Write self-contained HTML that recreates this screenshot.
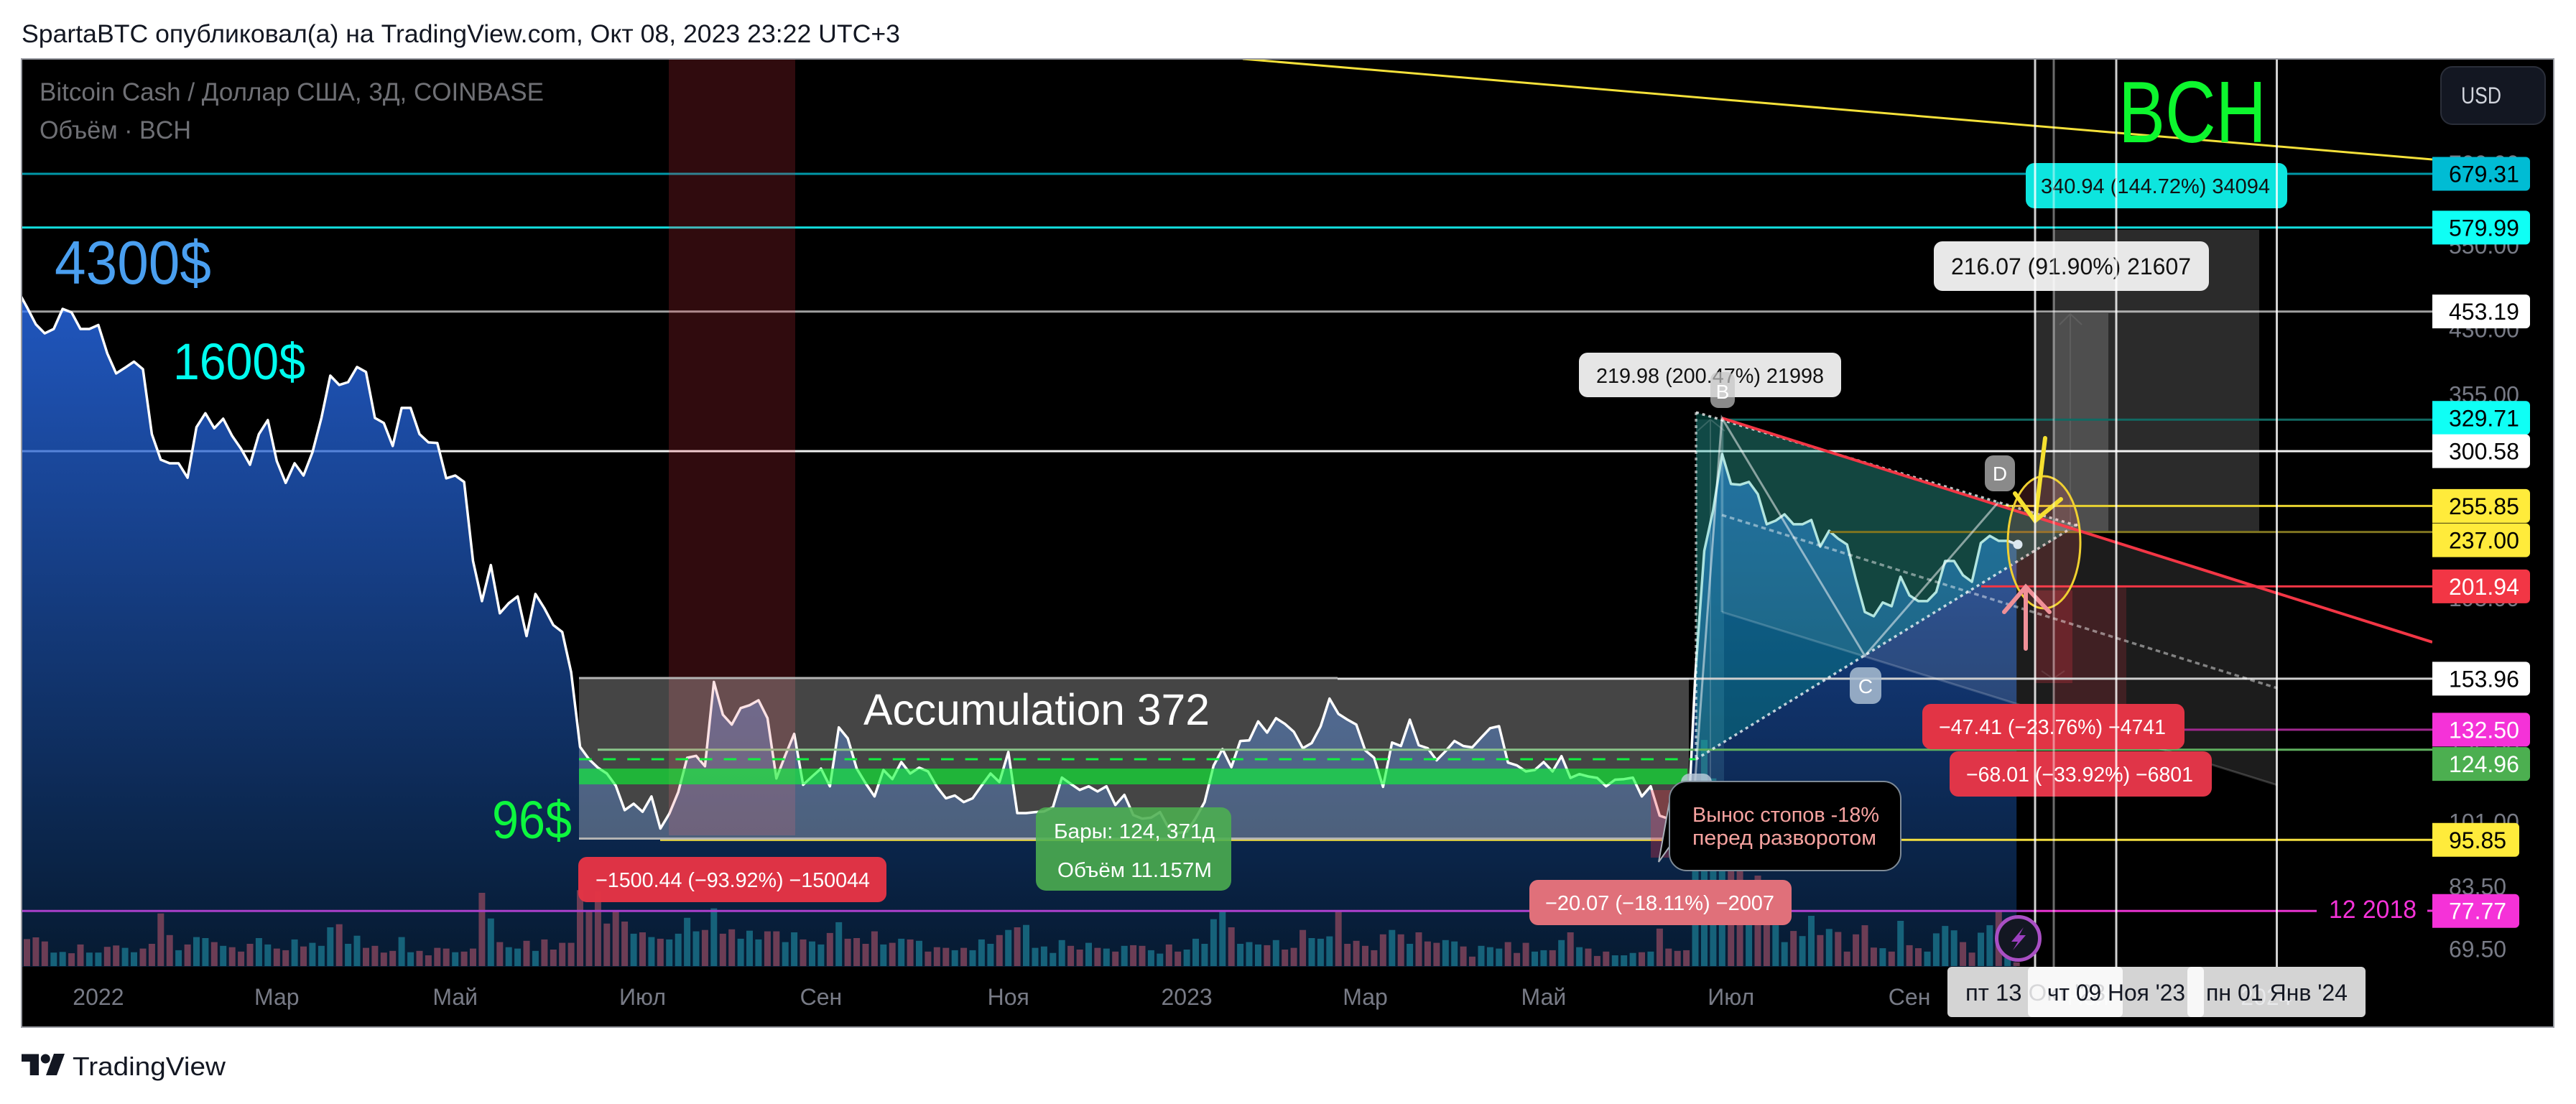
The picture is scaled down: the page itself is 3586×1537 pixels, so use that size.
<!DOCTYPE html>
<html lang="ru">
<head>
<meta charset="utf-8">
<title>BCH chart - SpartaBTC</title>
<style>
html,body{margin:0;padding:0;background:#fff;width:3586px;height:1537px;overflow:hidden}
svg{display:block}
text{font-family:"Liberation Sans","DejaVu Sans",sans-serif}
</style>
</head>
<body>
<svg id="chart" xmlns="http://www.w3.org/2000/svg" width="3586" height="1537" viewBox="0 0 3586 1537">
<defs>
<linearGradient id="areaFill" gradientUnits="userSpaceOnUse" x1="0" y1="415" x2="0" y2="1345">
<stop offset="0" stop-color="rgb(43,115,253)" stop-opacity="0.75"/>
<stop offset="1" stop-color="rgb(8,35,65)" stop-opacity="0.75"/>
</linearGradient>
<linearGradient id="magentaLine" gradientUnits="userSpaceOnUse" x1="30" y1="0" x2="3225" y2="0">
<stop offset="0" stop-color="#a83fc9"/>
<stop offset="0.87" stop-color="#b040d0"/>
<stop offset="0.88" stop-color="#e633cf"/>
<stop offset="1" stop-color="#e633cf"/>
</linearGradient>
<clipPath id="paneClip"><rect x="31" y="83" width="3355" height="1263"/></clipPath>
</defs>

<rect x="0" y="0" width="3586" height="1537" fill="#ffffff"/>
<text x="30" y="59" font-size="35" fill="#131722" textLength="1223" lengthAdjust="spacingAndGlyphs">SpartaBTC опубликовал(а) на TradingView.com, Окт 08, 2023 23:22 UTC+3</text>

<rect x="30" y="82" width="3525" height="1348" fill="#000000" stroke="#9a9ca3" stroke-width="2"/>

<g clip-path="url(#paneClip)">
<g id="levelsUnder"></g>
<path id="areaPath" fill="url(#areaFill)"></path>
<g id="volumeBars"></g>
<path id="pricePath" fill="none" stroke="#ffffff" stroke-width="3.5" stroke-linejoin="round"></path>

<polygon points="2397,582 3170,826 3170,1093 2397,852" fill="rgba(255,255,255,0.11)"/>
<polygon points="2361,574 2892,732 2361,1057" fill="rgba(0,170,150,0.3)"/>
<rect x="2361" y="584" width="39" height="516" fill="rgba(120,210,230,0.14)"/>
<path d="M2381,1090V584M2363,600L2381,584L2401,600" fill="none" stroke="rgba(255,255,255,0.16)" stroke-width="2"/>

<rect x="2859" y="320" width="286" height="421" fill="rgba(255,255,255,0.17)"/>
<rect x="2833" y="436" width="102" height="305" fill="rgba(255,255,255,0.17)"/>
<path d="M2882,736V437M2867,452L2882,437L2898,452" fill="none" stroke="rgba(255,255,255,0.09)" stroke-width="2"/>
<rect x="2832" y="822" width="53" height="129" fill="rgba(242,54,69,0.24)"/>
<rect x="2858" y="818" width="102" height="200" fill="rgba(242,54,69,0.17)"/>
<path d="M2842,934L2858,945L2874,934" fill="none" stroke="rgba(255,255,255,0.1)" stroke-width="2"/>

<g id="levelsOver"></g>

<rect x="931" y="82" width="176" height="1081" fill="rgba(242,54,69,0.2)"/>
<rect x="806" y="944" width="1545" height="224" fill="rgba(255,255,255,0.27)"/>
<path d="M806,944H1862M806,1167.5H2351" stroke="#b4b4b4" stroke-width="3" fill="none"/>
<rect x="806" y="1070" width="1543" height="22" fill="rgba(8,255,50,0.6)"/>
<rect x="2298" y="1100" width="52" height="94" fill="rgba(242,54,69,0.3)"/>
<line x1="806" y1="1057" x2="2361" y2="1057" stroke="#12f040" stroke-width="3" stroke-dasharray="17.6 16"/>

<g fill="none">
<line x1="1730" y1="82" x2="3386" y2="222" stroke="#f5e13a" stroke-width="3"/>
<line x1="2361" y1="574" x2="2892" y2="732" stroke="rgba(255,255,255,0.75)" stroke-width="3.5" stroke-dasharray="4 5"/>
<line x1="2361" y1="1057" x2="2892" y2="730" stroke="rgba(255,255,255,0.75)" stroke-width="3.5" stroke-dasharray="4 5"/>
<line x1="2361" y1="574" x2="2361" y2="1057" stroke="rgba(255,255,255,0.6)" stroke-width="3.5" stroke-dasharray="4 5"/>
<line x1="2397" y1="717" x2="3170" y2="958" stroke="rgba(255,255,255,0.45)" stroke-width="3.5" stroke-dasharray="6.5 5"/>
<line x1="2397" y1="852" x2="3170" y2="1093" stroke="rgba(255,255,255,0.18)" stroke-width="3"/>
<line x1="2397" y1="582" x2="2397" y2="852" stroke="rgba(255,255,255,0.22)" stroke-width="3"/>
<line x1="2397" y1="582" x2="3386" y2="894" stroke="#f23645" stroke-width="4"/>
<polyline points="2358,1110 2397,582 2596,913 2782,699" stroke="rgba(255,255,255,0.5)" stroke-width="3"/>
</g>

<text x="76" y="395" font-size="85" fill="#4a9ff0" textLength="218" lengthAdjust="spacingAndGlyphs">4300$</text>
<text x="241" y="528" font-size="71" fill="#00fff0" textLength="184" lengthAdjust="spacingAndGlyphs">1600$</text>
<text x="685" y="1167" font-size="74" fill="#0df73e" textLength="111" lengthAdjust="spacingAndGlyphs">96$</text>
<text x="1202" y="1009" font-size="61" fill="#ffffff" textLength="482" lengthAdjust="spacingAndGlyphs">Accumulation 372</text>
<text x="2949" y="198" font-size="122" fill="#0df72e" textLength="206" lengthAdjust="spacingAndGlyphs">BCH</text>
<text x="55" y="140" font-size="35" fill="#6f7075" textLength="702" lengthAdjust="spacingAndGlyphs">Bitcoin Cash / Доллар США, 3Д, COINBASE</text>
<text x="55" y="193" font-size="35" fill="#6f7075" textLength="211" lengthAdjust="spacingAndGlyphs">Объём · BCH</text>

<g>
<rect x="2198" y="491" width="365" height="62" rx="12" fill="#e6e6e6"/>
<text x="2222" y="533" font-size="29" fill="#111111" textLength="317" lengthAdjust="spacingAndGlyphs">219.98 (200.47%) 21998</text>
</g>
<g>
<rect x="2820" y="227" width="364" height="63" rx="12" fill="#0de5de"/>
<text x="2841" y="269" font-size="29" fill="#111111" textLength="319" lengthAdjust="spacingAndGlyphs">340.94 (144.72%) 34094</text>
</g>
<g>
<rect x="2692" y="336" width="383" height="69" rx="12" fill="#e8e8e8"/>
<text x="2716" y="382" font-size="32" fill="#111111" textLength="334" lengthAdjust="spacingAndGlyphs">216.07 (91.90%) 21607</text>
</g>
<g>
<rect x="805" y="1193" width="429" height="63" rx="12" fill="rgba(226,52,69,0.98)"/>
<text x="829" y="1235" font-size="29" fill="#ffffff" textLength="382" lengthAdjust="spacingAndGlyphs">−1500.44 (−93.92%) −150044</text>
</g>
<g>
<rect x="2129" y="1225" width="365" height="63" rx="12" fill="#e0707a"/>
<text x="2151" y="1267" font-size="29" fill="#ffffff" textLength="319" lengthAdjust="spacingAndGlyphs">−20.07 (−18.11%) −2007</text>
</g>
<g>
<rect x="2676" y="980" width="365" height="63" rx="12" fill="#e23445"/>
<text x="2699" y="1022" font-size="29" fill="#ffffff" textLength="316" lengthAdjust="spacingAndGlyphs">−47.41 (−23.76%) −4741</text>
</g>
<g>
<rect x="2714" y="1046" width="365" height="63" rx="12" fill="#e03548"/>
<text x="2737" y="1088" font-size="29" fill="#ffffff" textLength="316" lengthAdjust="spacingAndGlyphs">−68.01 (−33.92%) −6801</text>
</g>
<g>
<rect x="1442" y="1124" width="272" height="116" rx="14" fill="rgba(76,175,80,0.88)"/>
<text x="1467" y="1167" font-size="29" fill="#ffffff" textLength="224" lengthAdjust="spacingAndGlyphs">Бары: 124, 371д</text>
<text x="1472" y="1221" font-size="29" fill="#ffffff" textLength="215" lengthAdjust="spacingAndGlyphs">Объём 11.157M</text>
</g>

<g>
<rect x="2340" y="1077" width="43" height="50" rx="12" fill="rgba(190,205,220,0.8)"/>
<rect x="2381" y="518" width="34" height="50" rx="11" fill="rgba(197,197,197,0.7)"/>
<text x="2398" y="555" font-size="28" fill="#ffffff" text-anchor="middle">B</text>
<rect x="2575" y="929" width="44" height="51" rx="12" fill="rgba(170,190,210,0.85)"/>
<text x="2597" y="965" font-size="28" fill="#ffffff" text-anchor="middle">C</text>
<rect x="2763" y="634" width="42" height="50" rx="12" fill="#8a8a8a"/>
<text x="2784" y="669" font-size="28" fill="#ffffff" text-anchor="middle">D</text>
</g>

<g>
<polygon points="2326,1105 2309,1200 2326,1176" fill="#000000" stroke="#a9b0b8" stroke-width="2"/>
<rect x="2324" y="1088" width="322" height="124" rx="24" fill="#000000" stroke="#7e8a96" stroke-width="2"/>
<text x="2356" y="1144" font-size="29" fill="#f7a3a0" textLength="260" lengthAdjust="spacingAndGlyphs">Вынос стопов -18%</text>
<text x="2356" y="1176" font-size="29" fill="#f7a3a0" textLength="256" lengthAdjust="spacingAndGlyphs">перед разворотом</text>
</g>

<ellipse cx="2845.5" cy="755" rx="50.5" ry="92" fill="rgba(255,100,100,0.18)" stroke="#f0d030" stroke-width="3"/>
<path d="M2847,610L2833,725M2805,687L2833,725L2869,695" fill="none" stroke="#f5e030" stroke-width="6" stroke-linecap="round"/>
<path d="M2820,903V817M2790,852L2820,817L2853,852" fill="none" stroke="#f09098" stroke-width="6" stroke-linecap="round"/>
<line x1="2796" y1="753" x2="2809" y2="758" stroke="#dde8f0" stroke-width="3"/>
<circle cx="2809" cy="758" r="6.5" fill="#dde8f0"/>

<g stroke-width="3">
<line x1="2833" y1="82" x2="2833" y2="1346" stroke="rgba(255,255,255,0.82)"/>
<line x1="2859" y1="82" x2="2859" y2="1346" stroke="rgba(255,255,255,0.42)"/>
<line x1="2946" y1="82" x2="2946" y2="1346" stroke="rgba(255,255,255,0.82)"/>
<line x1="3169.5" y1="82" x2="3169.5" y2="1346" stroke="rgba(255,255,255,0.82)"/>
</g>

<g>
<circle cx="2809.5" cy="1306.5" r="30" fill="#131722" stroke="#a94fc4" stroke-width="5"/>
<polygon points="2817,1291 2800,1311 2809,1311 2802,1323 2820,1302 2811,1302" fill="#9c3fc0"/>
</g>
</g>

<rect x="3386" y="83" width="168" height="1263" fill="#000000"/>
<g id="priceTicks"></g>
<g id="levelLabels"></g>
<text x="3242" y="1278" font-size="35" fill="#f532d8" textLength="122" lengthAdjust="spacingAndGlyphs">12 2018</text>
<line x1="3379" y1="1268" x2="3386" y2="1268" stroke="#e633cf" stroke-width="3"/>
<rect x="3398" y="93" width="145" height="80" rx="16" fill="#131722" stroke="#2a2e39" stroke-width="2"/>
<text x="3426" y="144" font-size="32" fill="#d1d4dc" textLength="56" lengthAdjust="spacingAndGlyphs">USD</text>

<g id="timeTicks"></g>
<g>
<rect x="2711" y="1346" width="244" height="70" rx="6" fill="rgba(255,255,255,0.83)"/>
<text x="2736" y="1393" font-size="32" fill="#131722" textLength="195" lengthAdjust="spacingAndGlyphs">пт 13 Окт '23</text>
<rect x="2823" y="1346" width="245" height="70" rx="6" fill="rgba(255,255,255,0.83)"/>
<text x="2850" y="1393" font-size="32" fill="#131722" textLength="192" lengthAdjust="spacingAndGlyphs">чт 09 Ноя '23</text>
<rect x="3045" y="1346" width="248" height="70" rx="6" fill="rgba(255,255,255,0.83)"/>
<text x="3071" y="1393" font-size="32" fill="#131722" textLength="197" lengthAdjust="spacingAndGlyphs">пн 01 Янв '24</text>
</g>

<g>
<path d="M30,1467.5H54V1497H41.7V1478H30Z M90,1467L79,1497H64L75,1467Z" fill="#131722"/>
<circle cx="63.3" cy="1474" r="6.5" fill="#131722"/>
<text x="101" y="1497" font-size="36" fill="#131722" textLength="213" lengthAdjust="spacingAndGlyphs">TradingView</text>
</g>
</svg>

<script>
const closePrices = [
481.5,459,436.4,425,430.5,456.7,452,430.5,430.5,435.5,400.7,377.7,384.2,391,382.5,316,293.1,290,290,278,322.5,336,321.5,330.7,314.3,302.6,288.8,316,329.3,291.9,273.8,290,279.8,299.4,331.4,375.3,365.2,368.2,385,379.3,331.4,326.5,305.2,341.3,341.3,316,308.4,307.8,277.5,279.8,274.6,217.6,193.4,215,186.6,192.2,196.1,174.5,197.5,189.3,180.2,176.6,156.9,126,121.5,118.5,116.5,112.4,104.6,106.6,104.1,108.9,99.1,103.5,110.3,122,122.7,119,152.5,138.5,134.5,141.2,142.4,144.5,137.1,114.8,122.9,130.9,112.7,115.5,118.2,112.2,133.4,129.2,118.2,
113.2,108.9,117.7,114.6,120.5,116.5,118.5,117.2,112,108.3,109.2,107.1,108.3,112.4,116.5,113.6,124.1,103.7,103.7,104,104.2,105.5,115.1,113,111,112.2,110.5,112.2,106.2,109.4,103.1,102,102.3,104,99,97.8,98.2,102.2,107.1,119.2,125.2,118.7,128.2,128.4,135.8,131.4,137.1,134.8,131.7,125.5,127.4,133.8,145.2,138.8,136.5,134.5,124.7,122,112,127.6,126.3,136.5,126.6,125.5,121.1,124.4,128.2,126.3,125.8,129.5,133.1,133.9,120.3,119.3,117.2,117.7,120.5,117.2,122.6,115,116.3,115.5,115,112.2,114.4,114.6,115.1,108.9,112.2,102.9,102,
95.8,90.9,155.6,224.2,252.8,298.1,272.9,272.3,274.6,264.9,242.4,245,249.6,242.4,242.4,245.5,227,237.8,232.4,228.4,206,187.3,185,192.6,190.5,207.8,196.7,193.4,193.4,198.7,217.6,217.6,208.7,204.7,229.4,234.3,230.9,230.9,228.4
];
const volumes = [
80,85,73,40,42,38,64,40,40,57,61,54,41,52,66,156,92,47,64,86,83,71,60,56,43,66,83,64,52,47,79,58,69,60,115,124,66,90,54,60,40,45,86,41,45,32,54,52,41,43,52,217,141,71,56,52,75,45,79,49,69,69,225,163,220,126,163,132,96,100,86,81,79,96,143,103,107,171,96,109,81,105,79,103,103,71,100,79,73,64,98,130,81,83,
66,103,64,69,81,79,75,43,56,54,47,54,47,79,66,92,107,115,122,54,58,39,77,60,49,69,54,52,43,60,62,60,47,37,64,43,49,81,66,139,161,115,66,71,64,62,77,49,54,107,83,81,88,161,66,75,60,47,94,107,94,66,100,73,69,77,73,58,28,60,56,52,71,39,69,43,47,47,77,100,56,52,30,43,32,32,39,41,43,111,52,45,47,
415,670,556,450,287,287,255,268,138,121,71,104,89,149,92,110,101,43,94,121,55,53,43,134,62,53,43,97,119,106,71,40,99,121,162,25,11
];
const timeTickLabels = ["2022","Мар","Май","Июл","Сен","Ноя","2023","Мар","Май","Июл","Сен","Ноя","2024"];
const timeTickBars = [8,28,48,69,89,110,130,150,170,191,211,231,251];
const priceTickValues = [700,550,430,355,195,125,101,83.5,69.5];
const levelPrices = [679.31,579.99,453.19,329.71,300.58,255.85,237.00,201.94,153.96,132.50,124.96,95.85,77.77];

const firstBarIndex = -1;

function xOfBar(i){ return 37.5 + 12.42 * i; }
function yOfPrice(p){ return 242 + (Math.log(679.31) - Math.log(p)) * 473.5; }
function yOfVolume(v){ return 1345 - v * 0.47; }

const svgNS = "http://www.w3.org/2000/svg";
function make(tag, parent){
  const el = document.createElementNS(svgNS, tag);
  parent.appendChild(el);
  return el;
}

/* price line and area */
let lineD = "";
closePrices.forEach(function(p, k){
  const x = xOfBar(k + firstBarIndex);
  const y = yOfPrice(p);
  lineD += (k === 0 ? "M" : "L") + x.toFixed(1) + "," + y.toFixed(1);
});
document.getElementById("pricePath").setAttribute("d", lineD);
const lastX = xOfBar(closePrices.length - 1 + firstBarIndex);
const firstX = xOfBar(firstBarIndex);
document.getElementById("areaPath").setAttribute("d", lineD + "L" + lastX.toFixed(1) + ",1346L" + firstX.toFixed(1) + ",1346Z");

/* volume bars, coloured by close-to-close change */
const volumeGroup = document.getElementById("volumeBars");
volumes.forEach(function(v, i){
  const rect = make("rect", volumeGroup);
  
  
  const top = yOfVolume(v);
  const up = closePrices[i + 1] >= closePrices[i];
  rect.setAttribute("x", (xOfBar(i) - 4.5).toFixed(1));
  rect.setAttribute("y", top.toFixed(1));
  rect.setAttribute("width", "9");
  rect.setAttribute("height", (1345 - top).toFixed(1));
  rect.setAttribute("fill", up ? "#16627a" : "#6c3d55");
});

/* horizontal price levels: look table is kept apart from the values */
const levelLook = [
  {layer:"levelsOver", start:30, end:3386, line:"#0097a7", box:"#00bcd4", text:"#000000", nudge:0, right:3522},
  {layer:"levelsOver", start:30, end:3386, line:"#12dede", box:"#0ffff5", text:"#000000", nudge:0, right:3522},
  {layer:"levelsUnder", start:30, end:3386, line:"#a0a0a0", box:"#ffffff", text:"#000000", nudge:0, right:3522},
  {layer:"levelsOver", start:2397, end:3386, line:"#116a63", box:"#0ffff5", text:"#000000", nudge:-2.5, right:3522},
  {layer:"levelsUnder", start:30, end:3386, line:"#f0f0f0", box:"#ffffff", text:"#000000", nudge:0, right:3522},
  {layer:"levelsOver", start:2785, end:3386, line:"#e8d330", box:"#ffeb3b", text:"#000000", nudge:0, right:3522},
  {layer:"levelsOver", start:2547, end:3386, line:"#7f7420", box:"#ffeb3b", text:"#000000", nudge:11.5, right:3522},
  {layer:"levelsOver", start:2758, end:3386, line:"#f23645", box:"#f23645", text:"#ffffff", nudge:0, right:3522},
  {layer:"levelsOver", start:1862, end:3386, line:"#cfcfcf", box:"#ffffff", text:"#000000", nudge:0, right:3522},
  {layer:"levelsOver", start:3041, end:3386, line:"#a0288f", box:"#f532d8", text:"#ffffff", nudge:0, right:3522},
  {layer:"levelsOver", start:832, end:3386, line:"#5fb05f", box:"#4caf50", text:"#ffffff", nudge:20, right:3522},
  {layer:"levelsOver", start:919, end:3386, line:"#f5e040", box:"#ffeb3b", text:"#000000", nudge:0, right:3507},
  {layer:"levelsOver", start:30, end:3225, line:"url(#magentaLine)", box:"#f532d8", text:"#ffffff", nudge:0, right:3507}
];
const levelLabelGroup = document.getElementById("levelLabels");
levelPrices.forEach(function(price, k){
  const look = levelLook[k];
  const y = yOfPrice(price);
  const line = make("line", document.getElementById(look.layer));
  
  
  line.setAttribute("x1", look.start);
  line.setAttribute("x2", look.end);
  line.setAttribute("y1", y.toFixed(1));
  line.setAttribute("y2", y.toFixed(1));
  line.setAttribute("stroke", look.line);
  line.setAttribute("stroke-width", "3");

  const cy = y + look.nudge;
  const top = cy - 23.5;
  const bottom = cy + 23.5;
  const box = make("path", levelLabelGroup);
  
  
  box.setAttribute("d", "M3386," + top + "H" + (look.right - 6) + "a6,6 0 0 1 6,6V" + (bottom - 6) + "a6,6 0 0 1 -6,6H3386Z");
  box.setAttribute("fill", look.box);
  const label = make("text", levelLabelGroup);
  
  
  label.setAttribute("x", "3409");
  label.setAttribute("y", (cy + 11.5).toFixed(1));
  label.setAttribute("font-size", "32");
  label.setAttribute("fill", look.text);
  label.textContent = price.toFixed(2);
});

/* price axis ticks */
const priceTickGroup = document.getElementById("priceTicks");
priceTickValues.forEach(function(v){
  const t = make("text", priceTickGroup);
  
  
  t.setAttribute("x", "3409");
  t.setAttribute("y", (yOfPrice(v) + 11).toFixed(1));
  t.setAttribute("font-size", "32");
  t.setAttribute("fill", "#787b86");
  t.textContent = v.toFixed(2);
});

/* time axis ticks */
const timeTickGroup = document.getElementById("timeTicks");
timeTickLabels.forEach(function(name, k){
  const t = make("text", timeTickGroup);
  
  
  t.setAttribute("x", xOfBar(timeTickBars[k]).toFixed(1));
  t.setAttribute("y", "1399");
  t.setAttribute("font-size", "32");
  t.setAttribute("fill", "#787b86");
  t.setAttribute("text-anchor", "middle");
  t.textContent = name;
});
</script>
</body>
</html>
